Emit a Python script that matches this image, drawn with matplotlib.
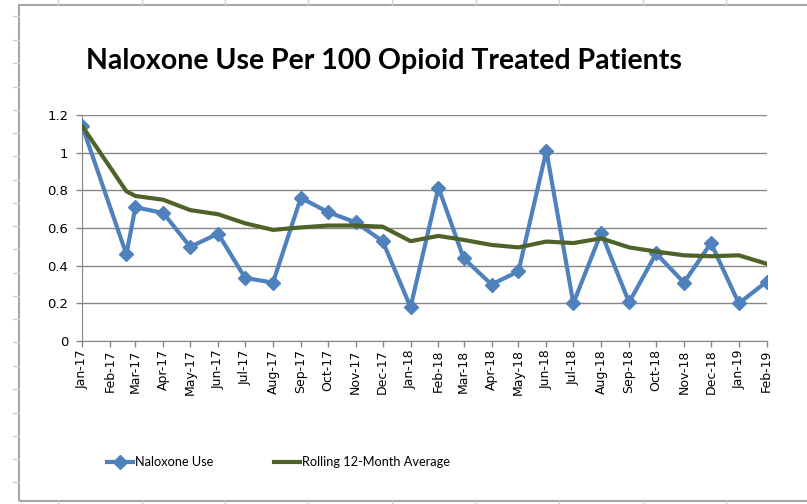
import matplotlib
matplotlib.use("Agg")
import matplotlib.pyplot as plt
import matplotlib.dates as mdates
from matplotlib.lines import Line2D
from matplotlib.patches import Rectangle
import pandas as pd

# ---- data ----
dates = ["2017-01-01", "2017-02-19", "2017-03-01", "2017-04-01", "2017-05-01", "2017-06-01",
         "2017-07-01", "2017-08-01", "2017-09-01", "2017-10-01", "2017-11-01", "2017-12-01",
         "2018-01-01", "2018-02-01", "2018-03-01", "2018-04-01", "2018-05-01", "2018-06-01",
         "2018-07-01", "2018-08-01", "2018-09-01", "2018-10-01", "2018-11-01", "2018-12-01",
         "2019-01-01", "2019-02-01"]
naloxone_use = [1.14, 0.46, 0.71, 0.68, 0.50, 0.57, 0.335, 0.31, 0.76, 0.685, 0.63, 0.53,
                0.18, 0.815, 0.44, 0.30, 0.37, 1.01, 0.20, 0.575, 0.205, 0.465, 0.31, 0.52,
                0.20, 0.315]
rolling_avg = [1.14, 0.795, 0.77, 0.75, 0.695, 0.673, 0.625, 0.59, 0.603, 0.613, 0.613, 0.607,
               0.53, 0.558, 0.537, 0.51, 0.497, 0.528, 0.52, 0.545, 0.497, 0.475, 0.455, 0.45,
               0.455, 0.41]
tick_months = pd.date_range("2017-01-01", "2019-02-01", freq="MS")
y_ticks = [0, 0.2, 0.4, 0.6, 0.8, 1.0, 1.2]
y_labels = ["0", "0.2", "0.4", "0.6", "0.8", "1", "1.2"]
title = "Naloxone Use Per 100 Opioid Treated Patients"
series_names = ["Naloxone Use", "Rolling 12-Month Average"]

W, H = 807, 504
fig = plt.figure(figsize=(W / 100, H / 100), dpi=100)

# spreadsheet background decoration (pixel coords)
def px_line(x0, y0, x1, y1, color, lw):
    fig.add_artist(Line2D([x0 / W, x1 / W], [1 - y0 / H, 1 - y1 / H],
                          transform=fig.transFigure, color=color, lw=lw))

for x in [58, 142, 225, 308, 392, 476, 559, 643, 726]:
    px_line(x, 0, x, 5, "#d0d0d0", 1)
    px_line(x, 501, x, 504, "#d0d0d0", 1)
for y in [16, 40, 63, 87, 110, 133, 156, 180, 203, 226, 249, 273, 296, 319, 342, 366, 389, 413, 436, 459, 482]:
    px_line(13, y, 19, y, "#d0d0d0", 1)
# chart border
fig.add_artist(Rectangle((19 / W, 1 - 501 / H), (W + 10 - 19) / W, (501 - 5) / H,
                         transform=fig.transFigure, fill=False, edgecolor="#a6a6a6", lw=1.5))

ax = fig.add_axes([82.3 / W, 1 - 341 / H, (766.7 - 82.3) / W, (341 - 115) / H])
x = pd.to_datetime(dates)
ax.plot(x, naloxone_use, color="#4F81BD", lw=3, marker="D", markersize=7,
        markeredgecolor="#4F81BD", label=series_names[0], zorder=3)
ax.plot(x, rolling_avg, color="#4F6228", lw=3, label=series_names[1], zorder=4)

ax.set_xlim(pd.Timestamp("2017-01-01"), pd.Timestamp("2019-02-01"))
ax.set_ylim(0, 1.2)
ax.set_yticks(y_ticks)
ax.set_yticklabels(y_labels, fontsize=9.5, family="DejaVu Sans", color="#000000")
ax.set_xticks(tick_months)
ax.xaxis.set_major_formatter(mdates.DateFormatter("%b-%y"))
for lab in ax.get_xticklabels():
    lab.set_rotation(90)
    lab.set_fontsize(9)
ax.tick_params(axis="x", length=4, width=1, color="#868686", pad=2)
ax.tick_params(axis="y", length=4, width=1, color="#868686", pad=6)
ax.yaxis.grid(True, color="#868686", lw=1)
ax.set_axisbelow(True)
for s in ["top", "right"]:
    ax.spines[s].set_visible(False)
ax.spines["left"].set_color("#868686")
ax.spines["bottom"].set_color("#868686")

fig.text(383.5 / W, 1 - 61 / H, title, ha="center", va="center",
         fontsize=20.5, fontweight="bold", family="Lato")

leg = fig.legend(loc="center", bbox_to_anchor=(278.5 / W, 1 - 462 / H), ncol=2,
                 frameon=False, prop={"family": "Lato", "size": 9.2},
                 handlelength=2.0, handletextpad=0.15, columnspacing=4.8)

fig.savefig("out.png", dpi=100)
